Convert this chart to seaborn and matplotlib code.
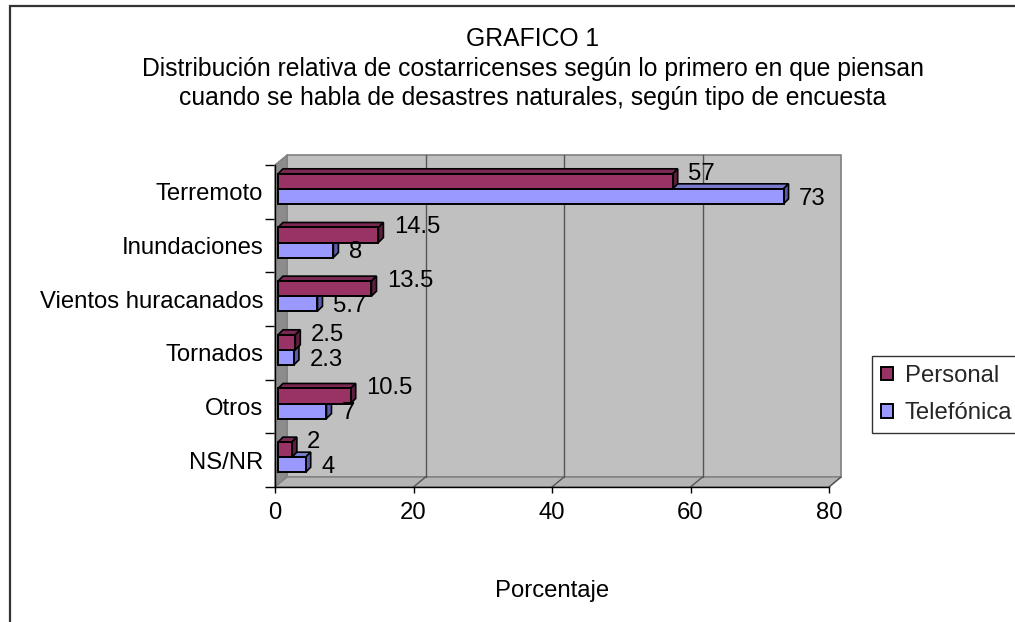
import numpy as np
import pandas as pd
import matplotlib
matplotlib.use('Agg')
import matplotlib.pyplot as plt
import seaborn as sns
from matplotlib.patches import Polygon, Rectangle, Patch
from matplotlib.lines import Line2D
from matplotlib.transforms import ScaledTranslation, IdentityTransform

# Datos del gráfico
categorias = ['Terremoto', 'Inundaciones', 'Vientos huracanados', 'Tornados', 'Otros', 'NS/NR']
personal = [57, 14.5, 13.5, 2.5, 10.5, 2]
telefonica = [73, 8, 5.7, 2.3, 7, 4]
series = ['Personal', 'Telefónica']
x_ticks = [0, 20, 40, 60, 80]

titulo = ['GRAFICO 1',
          'Distribución relativa de costarricenses según lo primero en que piensan',
          'cuando se habla de desastres naturales, según tipo de encuesta']

colores = {'Personal': '#993366', 'Telefónica': '#9999FF'}
color_top = {'Personal': '#7A2952', 'Telefónica': '#7A7ACC'}
color_lado = {'Personal': '#5E1F3F', 'Telefónica': '#5C5CAD'}

df = pd.DataFrame({
    'Categoria': categorias * 2,
    'Porcentaje': personal + telefonica,
    'Encuesta': ['Personal'] * len(categorias) + ['Telefónica'] * len(categorias),
})

sns.set_theme(style='white')
plt.rcParams['font.family'] = ['Liberation Sans', 'DejaVu Sans']
FS = 17.2
FS_TIT = 17.8

DPI = 100
W, H = 1015, 622
fig = plt.figure(figsize=(W / DPI, H / DPI), dpi=DPI)
fig.patch.set_facecolor('white')

# plano frontal de la caja 3d (pixeles desde arriba)
x0, x1, ytop, ybot = 275, 829, 165, 487
ax = fig.add_axes([x0 / W, 1 - ybot / H, (x1 - x0) / W, (ybot - ytop) / H])
ax.set_facecolor('none')

sns.barplot(data=df, y='Categoria', x='Porcentaje', hue='Encuesta', order=categorias,
            hue_order=series, palette=colores, width=0.56, orient='h', ax=ax,
            edgecolor='black', linewidth=1.4, saturation=1, errorbar=None, legend=False)

ax.set_xlim(0, 80)
ax.set_ylim(len(categorias) - 0.5, -0.5)

DX, DY = 12, 10   # profundidad de la caja
BX, BY = 3, 3     # las barras van un poco hacia dentro
BD = 5            # profundidad de las barras
ident = IdentityTransform()


def poly(pts, z, **kw):
    p = Polygon(pts, closed=True, transform=ident, zorder=z, **kw)
    p.set_clip_on(False)
    ax.add_artist(p)


def linea(xs, ys, z, **kw):
    l = Line2D(xs, ys, transform=ident, zorder=z, **kw)
    l.set_clip_on(False)
    ax.add_artist(l)


(L, B), (R, T) = ax.transAxes.transform([(0, 0), (1, 1)])

# pared del fondo, pared izquierda y piso
poly([(L + DX, B + DY), (R + DX, B + DY), (R + DX, T + DY), (L + DX, T + DY)], 0.5,
     facecolor='#C0C0C0', edgecolor='#808080', linewidth=1.2)
poly([(L, B), (L + DX, B + DY), (L + DX, T + DY), (L, T)], 0.6,
     facecolor='#8C8C8C', edgecolor='#808080', linewidth=1)
poly([(L, B), (R, B), (R + DX, B + DY), (L + DX, B + DY)], 0.6,
     facecolor='#B4B4B4', edgecolor='#808080', linewidth=1)

for t in x_ticks[1:]:
    xp = ax.transData.transform((t, 0))[0]
    if t < x_ticks[-1]:
        linea([xp + DX, xp + DX], [B + DY, T + DY], 0.7, color='#555555', linewidth=1)
    linea([xp, xp + DX], [B, B + DY], 0.7, color='#555555', linewidth=1)

# caras de las barras
desplaza = ax.transData + ScaledTranslation(BX / DPI, BY / DPI, fig.dpi_scale_trans)
for k, (serie, cont) in enumerate(zip(series, ax.containers)):
    zf = 2.8 - k * 0.4
    for rect in cont.patches:
        rect.set_transform(desplaza)
        rect.set_zorder(zf)
        xa, ya = ax.transData.transform((rect.get_x(), rect.get_y()))
        xb, yb = ax.transData.transform((rect.get_x() + rect.get_width(),
                                         rect.get_y() + rect.get_height()))
        xa, xb = xa + BX, xb + BX
        yl, yh = min(ya, yb) + BY, max(ya, yb) + BY
        poly([(xa, yh), (xb, yh), (xb + BD, yh + BD), (xa + BD, yh + BD)], zf - 0.1,
             facecolor=color_top[serie], edgecolor='black', linewidth=1.2)
        poly([(xb, yl), (xb + BD, yl + BD), (xb + BD, yh + BD), (xb, yh)], zf - 0.1,
             facecolor=color_lado[serie], edgecolor='black', linewidth=1.2)

# etiquetas de valores
for serie, cont, vals, dy in zip(series, ax.containers, [personal, telefonica], [7.6, 0.6]):
    for rect, v in zip(cont.patches, vals):
        yc = rect.get_y() + rect.get_height() / 2
        ax.annotate(f'{v:g}', xy=(v, yc), xytext=(13.2, dy), textcoords='offset points',
                    ha='left', va='center', fontsize=FS, color='black', zorder=5)

# ejes
ax.set_xticks(x_ticks)
ax.set_xticklabels([str(t) for t in x_ticks])
ax.set_yticks(range(len(categorias)))
ax.set_yticklabels(categorias)
ax.set_yticks(np.arange(-0.5, len(categorias), 1), minor=True)
ax.tick_params(axis='x', which='major', bottom=True, direction='out', length=4.3, width=1,
               pad=6.5, labelsize=FS, color='black', labelcolor='black')
ax.tick_params(axis='y', which='major', left=True, length=0, pad=8.6, labelsize=FS,
               labelcolor='black')
ax.tick_params(axis='y', which='minor', left=True, direction='out', length=7.2, width=1,
               color='black')
for lado in ['top', 'right']:
    ax.spines[lado].set_visible(False)
for lado in ['left', 'bottom']:
    ax.spines[lado].set_color('black')
    ax.spines[lado].set_linewidth(1)
    ax.spines[lado].set_zorder(3)

ax.set_ylabel('')
ax.set_xlabel('Porcentaje', fontsize=FS, color='black')
ax.xaxis.set_label_coords(0.5, (H - 591 - (H - ybot)) / (ybot - ytop))
ax.xaxis.label.set_va('center')

# titulo
for texto, yb in zip(titulo, [46, 76, 105]):
    fig.text(533 / W, 1 - yb / H, texto, ha='center', va='baseline', fontsize=FS_TIT,
             color='black')

# leyenda
handles = [Patch(facecolor=colores[s], edgecolor='black', linewidth=1.4, label=s) for s in series]
leg = fig.legend(handles=handles, loc='upper left', bbox_to_anchor=(872 / W, 1 - 356 / H),
                 bbox_transform=fig.transFigure, fontsize=FS, frameon=True, fancybox=False,
                 shadow=False, borderaxespad=0, borderpad=0.38, handlelength=0.5,
                 handleheight=0.5, handletextpad=0.5, labelspacing=0.64)
leg.get_frame().set_edgecolor('black')
leg.get_frame().set_linewidth(1)

# marco exterior
fig.patches.append(Rectangle((10 / W, -0.1), 1.1, 1.1 - 6 / H, transform=fig.transFigure,
                             facecolor='none', edgecolor='#333333', linewidth=1.6))

fig.savefig('out.png', dpi=DPI)
